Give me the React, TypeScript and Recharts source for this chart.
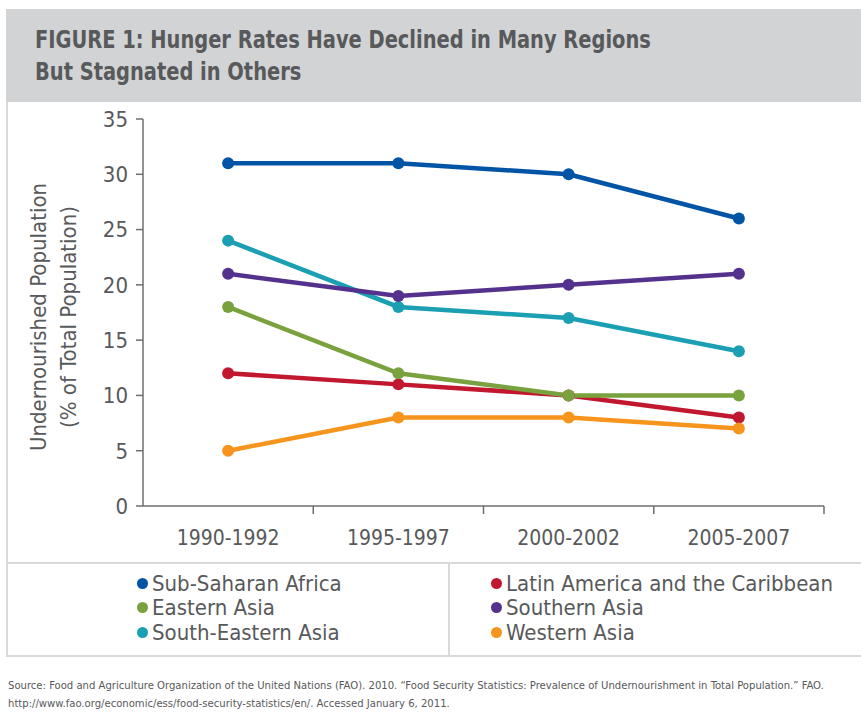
import React from "react";
import { LineChart, Line, XAxis, YAxis } from "recharts";

const periods = ["1990-1992", "1995-1997", "2000-2002", "2005-2007"];
const subSaharanAfrica = [31, 31, 30, 26];
const southernAsia = [21, 19, 20, 21];
const southEasternAsia = [24, 18, 17, 14];
const easternAsia = [18, 12, 10, 10];
const latinAmerica = [12, 11, 10, 8];
const westernAsia = [5, 8, 8, 7];
const yTicks = [0, 5, 10, 15, 20, 25, 30, 35];

const series = [
  { key: "sea", name: "South-Eastern Asia", color: "#1b9fb3", values: southEasternAsia },
  { key: "sa", name: "Southern Asia", color: "#55318e", values: southernAsia },
  { key: "lac", name: "Latin America and the Caribbean", color: "#c1172f", values: latinAmerica },
  { key: "ea", name: "Eastern Asia", color: "#79a23e", values: easternAsia },
  { key: "wa", name: "Western Asia", color: "#f7941d", values: westernAsia },
  { key: "ssa", name: "Sub-Saharan Africa", color: "#0054a6", values: subSaharanAfrica },
];

const legendLeft = ["ssa", "ea", "sea"];
const legendRight = ["lac", "sa", "wa"];

const data = periods.map((p, i) => {
  const row: Record<string, string | number> = { period: p };
  series.forEach((s) => (row[s.key] = s.values[i]));
  return row;
});

const FONT = "'DejaVu Sans Condensed', 'Liberation Sans Narrow', 'DejaVu Sans', sans-serif";
const TEXT = "#58595b";
const AXIS = "#6d6e71";
const BORDER = "#d9d9d9";

const W = 861;
const H = 461;
const margin = { top: 17, right: 37, bottom: 7, left: 83 };
const yAxisWidth = 60;
const step = (W - margin.left - yAxisWidth - margin.right) / periods.length;

function XTick(props: any) {
  const { x, y, payload } = props;
  return (
    <g>
      <line x1={x + step / 2} x2={x + step / 2} y1={y} y2={y + 8} stroke={AXIS} strokeWidth={1.5} />
      <text x={x} y={y + 39} textAnchor="middle" fill={TEXT} fontSize={21} fontFamily={FONT} style={{ fontStretch: "condensed" }}>
        {payload.value}
      </text>
    </g>
  );
}

function YTitle() {
  return (
    <g fill={TEXT} fontSize={22} fontFamily={FONT} style={{ fontStretch: "condensed" }}>
      <text x={38} y={215} textAnchor="middle" dominantBaseline="central" transform="rotate(-90 38 215)">
        Undernourished Population
      </text>
      <text x={68} y={215} textAnchor="middle" dominantBaseline="central" transform="rotate(-90 68 215)">
        (% of Total Population)
      </text>
    </g>
  );
}

function LegendItem({ k, x, y }: { k: string; x: number; y: number }) {
  const s = series.find((d) => d.key === k)!;
  return (
    <div style={{ position: "absolute", left: x, top: y, display: "flex", alignItems: "center", height: 24 }}>
      <span style={{ width: 11, height: 11, borderRadius: "50%", background: s.color, marginRight: 4, display: "inline-block" }} />
      <span style={{ fontSize: 22, color: TEXT, fontFamily: FONT, fontStretch: "condensed", whiteSpace: "nowrap" }}>{s.name}</span>
    </div>
  );
}

export default function App() {
  return (
    <div style={{ position: "absolute", left: 0, top: 0, width: 861, height: 713, background: "#fff", overflow: "hidden", fontFamily: FONT, fontStretch: "condensed" }}>
      <div style={{ position: "absolute", left: 6, top: 9, width: 870, height: 648, border: `2px solid ${BORDER}`, boxSizing: "border-box" }} />
      <div style={{ position: "absolute", left: 6, top: 9, width: 870, height: 93, background: "#d1d3d4" }} />
      <div
        style={{
          position: "absolute",
          left: 35,
          top: 24,
          fontSize: 24,
          lineHeight: "32px",
          fontWeight: 700,
          color: TEXT,
          whiteSpace: "nowrap",
          transform: "scaleX(0.9)",
          transformOrigin: "left top",
        }}
      >
        FIGURE 1: Hunger Rates Have Declined in Many Regions
        <br />
        But Stagnated in Others
      </div>
      <div style={{ position: "absolute", left: 0, top: 102 }}>
        <LineChart width={W} height={H} data={data} margin={margin}>
          <XAxis
            dataKey="period"
            padding={{ left: step / 2, right: step / 2 }}
            height={50}
            tickLine={false}
            tickSize={0}
            tickMargin={0}
            interval={0}
            axisLine={{ stroke: AXIS, strokeWidth: 1.5 }}
            tick={(p: any) => <XTick {...p} />}
          />
          <YAxis
            width={yAxisWidth}
            domain={[0, 35]}
            ticks={yTicks}
            interval={0}
            tickSize={7}
            tickMargin={8}
            axisLine={{ stroke: AXIS, strokeWidth: 1.5 }}
            tickLine={{ stroke: AXIS, strokeWidth: 1.5 }}
            tick={{ fill: TEXT, fontSize: 22, fontFamily: FONT, style: { fontStretch: "condensed" } }}
            label={{ content: () => <YTitle /> }}
          />
          {series.map((s) => (
            <Line
              key={s.key}
              dataKey={s.key}
              name={s.name}
              type="linear"
              stroke={s.color}
              strokeWidth={4.5}
              dot={{ r: 6, fill: s.color, stroke: s.color, strokeWidth: 0 }}
              isAnimationActive={false}
            />
          ))}
        </LineChart>
      </div>
      <div style={{ position: "absolute", left: 6, top: 562, width: 870, height: 2, background: BORDER }} />
      <div style={{ position: "absolute", left: 448, top: 563, width: 2, height: 94, background: BORDER }} />
      {legendLeft.map((k, i) => (
        <LegendItem key={k} k={k} x={137} y={571 + i * 24.5} />
      ))}
      {legendRight.map((k, i) => (
        <LegendItem key={k} k={k} x={491} y={571 + i * 24.5} />
      ))}
      <div style={{ position: "absolute", left: 8, top: 677, fontSize: 11.2, lineHeight: "18px", color: TEXT, whiteSpace: "nowrap" }}>
        Source: Food and Agriculture Organization of the United Nations (FAO). 2010. “Food Security Statistics: Prevalence of Undernourishment in Total Population.” FAO.
        <br />
        http://www.fao.org/economic/ess/food-security-statistics/en/. Accessed January 6, 2011.
      </div>
    </div>
  );
}
